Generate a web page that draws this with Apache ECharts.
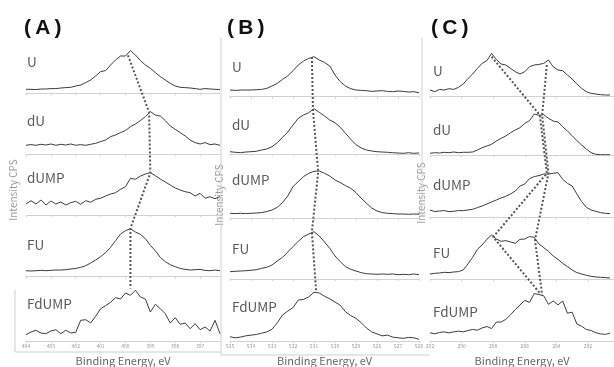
<!DOCTYPE html>
<html lang="en">
<head>
  <meta charset="UTF-8">
  <script src="https://cdn.jsdelivr.net/npm/echarts@6/dist/echarts.min.js"></script>
  <style>
    body { margin: 0; background: #fff; }
    #container { width: 614px; height: 367px; }
  </style>
</head>
<body>
  <div id="container"></div>
  <script>
    // row names, top to bottom
    var rowNames = ['U', 'dU', 'dUMP', 'FU', 'FdUMP'];

    // (A) N1s : 404 -> 396.2 eV, one point every 0.2 eV
    var startA = 404, stepA = -0.2;
    var uA = [4, 4, 3.7, 4.3, 4.3, 4.7, 4.7, 5.3, 5.7, 6, 7.3, 8.3, 10.7, 13.3, 17.3, 21.7, 22.7, 28.3, 33.3, 37.3, 37.3, 42.7, 38.3, 32.7, 28.3, 25, 20.7, 16.7, 13.3, 10, 7.3, 6, 5.7, 5.3, 4.7, 4, 4.7, 4.3, 4, 3.7];
    var duA = [9, 9.7, 9, 10, 9.3, 10.3, 9, 10, 9.3, 10.3, 9, 9.7, 9, 10, 11, 12.7, 14.3, 17.7, 19.3, 21.7, 23.7, 27.7, 30.3, 33.7, 37.7, 42.7, 39.3, 38.3, 33.7, 28.3, 25, 21.7, 18.3, 14.3, 11.7, 10.3, 11.7, 9.7, 10.3, 9];
    var dumpA = [11, 14.3, 11, 15, 10, 14, 11, 13, 10, 12.3, 13.7, 10.7, 14.3, 12.7, 15.7, 16.7, 19, 21, 22.3, 25.7, 28.3, 36.7, 35.7, 39, 41, 42.3, 39.3, 36, 33, 30, 27, 25, 23.3, 22.3, 19, 21.7, 16.7, 18.3, 16.3, 18.3];
    var fuA = [6, 5.7, 6, 6.3, 6, 6.3, 6.7, 6.7, 7, 7.7, 8.3, 9.3, 11, 13.7, 16.7, 20, 24, 29.3, 36, 42.7, 46, 48, 44.7, 42.3, 38, 31.3, 26, 19.3, 15, 12, 10, 8.3, 7.3, 6.7, 7, 7.3, 6.3, 6, 6.7, 6];
    var fdumpA = [6.3, 9, 10.7, 8, 7.3, 10, 11.3, 7.3, 10.7, 8, 8.7, 20.7, 21.3, 18, 24.7, 32.3, 35.3, 38.7, 43.3, 42, 48, 45.7, 50.7, 44, 42, 29, 36.7, 32.3, 27.3, 18, 23.3, 16.7, 18, 12.3, 17.3, 11.3, 14, 10, 20.7, 7.3];
    var ticksA = [404, 403, 402, 401, 400, 399, 398, 397];
    var peakEA = [399.9, 399.05, 399.0, 399.8, 399.8];
    var peakIA = [38, 42, 42, 48.5, 52.5];

    // (B) O1s : 535 -> 526 eV, one point every 0.25 eV
    var startB = 535, stepB = -0.25;
    var uB = [6.7, 6.3, 6.7, 6.7, 6.7, 7, 7.3, 8.3, 10.7, 13.3, 17.3, 20.7, 26, 31.7, 35.7, 38.3, 40, 36.7, 34.3, 30.7, 21.7, 15, 10.7, 8, 6.7, 6.3, 6, 5.3, 5.7, 6, 5.3, 5, 5.7, 5.3, 4.7, 5, 4];
    var duB = [2.3, 1.7, 1.3, 2, 2.3, 2.7, 4, 5, 7.3, 11.3, 16.7, 22, 29, 35.7, 39, 41.3, 45.3, 41.7, 38, 34, 31.3, 26.7, 20.7, 14.7, 9.3, 6, 4, 3, 2.3, 2, 1.7, 1.3, 1, 0.7, 1.3, 0.7, 1];
    var dumpB = [5, 4.7, 5, 4.7, 5, 5.3, 5.7, 6.7, 8.3, 11, 15.7, 22.3, 31.7, 36.7, 41.7, 45, 47, 47.3, 45, 42.3, 38.3, 35.7, 32.7, 30, 25.7, 20, 15, 10.3, 7.3, 5.7, 5, 4.7, 4.3, 4.3, 4, 4.3, 4];
    var fuB = [7.3, 7.7, 8, 8.3, 8.7, 9.3, 10.7, 11.7, 14, 18, 21.7, 27, 32.3, 37.7, 42.3, 45, 47.3, 43, 37, 30.7, 23, 17.3, 12.3, 9.7, 8, 6.3, 5.3, 5, 4.7, 5, 4.7, 5, 4.3, 4.7, 4.3, 5, 4.3];
    var fdumpB = [4.3, 3.3, 4, 5.3, 6, 6.7, 8, 9.3, 12, 18.7, 26.7, 30.7, 34.3, 42, 42.7, 45.3, 50, 49.3, 46, 43.3, 40, 36.7, 30, 26, 23.3, 18.7, 13.3, 9.3, 7.3, 5.3, 6, 4, 3.3, 2.7, 3.7, 3.3, 1.7];
    var ticksB = [535, 534, 533, 532, 531, 530, 529, 528, 527, 526];
    var peakEB = [531.1, 531.05, 530.8, 531.1, 530.9];
    var peakIB = [39.7, 44, 46.3, 47, 51.5];

    // (C) C1s : 292 -> 280.4 eV, one point every 0.3 eV
    var startC = 292, stepC = -0.3;
    var uC = [6.7, 5, 7.3, 6.7, 8, 7.3, 9.3, 12.7, 18, 22.7, 28.3, 33.3, 36, 43.3, 37.3, 32.7, 31.7, 28.3, 25, 22.7, 25, 30, 31.7, 32.3, 33.3, 36.7, 30, 26.7, 26, 21.7, 17.7, 12.7, 8.3, 5, 3.3, 2.7, 2, 1.7, 1.7];
    var duC = [1.7, 2.3, 2, 2.7, 2.3, 3, 2.3, 2.7, 2.7, 3, 5, 7.3, 9, 10.7, 14, 16.7, 19, 22.3, 25, 27.3, 31.7, 34.3, 41, 39.7, 40.3, 36.7, 34, 33, 28.3, 24, 19.3, 14.3, 10, 6, 2.3, 0.7, 0.3, 0.3, 0.3];
    var dumpC = [7.3, 5.7, 6.3, 6.7, 5.7, 6, 6.7, 6.7, 7.3, 8, 9.7, 11.3, 13.3, 15.3, 17.3, 19.3, 21, 23.3, 26.3, 31.3, 33.3, 38.7, 40.7, 41.7, 43.3, 43.3, 44, 44.7, 38, 34, 31.3, 23.3, 15.7, 10, 7.3, 6, 4.7, 4, 3.7];
    var fuC = [5.3, 6, 6.3, 7, 6.7, 7.3, 7.7, 9.3, 15.3, 22, 30, 34.3, 40, 44.3, 40.3, 38, 38.7, 37.3, 36, 40, 40.3, 42.7, 42, 35.3, 31.7, 28, 23.3, 20, 16, 12.7, 9.3, 6.7, 5.3, 4, 3, 2.3, 2, 1.7, 1.3];
    var fdumpC = [8.3, 7.3, 8.7, 9.3, 8.3, 9.3, 10, 9.3, 10.7, 11.7, 11, 13.3, 14.7, 12.7, 19.3, 19.3, 22, 26.7, 32, 36.7, 41.3, 39.3, 48.3, 47.3, 46, 37.3, 40.7, 36.7, 40.7, 28.3, 29.3, 17.3, 15, 11.7, 10.7, 8.3, 7.3, 6.7, 8];
    var ticksC = [292, 290, 288, 286, 284, 282];
    // two peak traces in C
    var peakEC1 = [288.1, 285.05, 284.6, 288.0, 285.05];
    var peakIC1 = [40, 40, 44, 42.3, 49];
    var peakEC2 = [284.6, 284.9, 284.5, 285.35, 284.9];
    var peakIC2 = [31.7, 40, 44, 39.3, 47];

    var H = 58; // px height of a row's plot box
    var panels = [
      { title: '(\u2009A\u2009)', tx: 24, left: 26, right: 394, min: 396.2, max: 404, start: startA, step: stepA,
        curves: [uA, duA, dumpA, fuA, fdumpA], ticks: ticksA,
        base: [93.3, 154.3, 215, 276.7, 341], labelX: 27, labelY: [64, 123, 180, 247, 306],
        traces: [[peakEA, peakIA]], yTitle: [13, 190] },
      { title: '(\u2009B\u2009)', tx: 227, left: 230, right: 195, min: 526, max: 535, start: startB, step: stepB,
        curves: [uB, duB, dumpB, fuB, fdumpB], ticks: ticksB,
        base: [96.7, 154, 218.3, 279, 342.5], labelX: 232, labelY: [69, 127, 182, 251, 309],
        traces: [[peakEB, peakIB]], yTitle: [219, 195] },
      { title: '(\u2009C\u2009)', tx: 431, left: 430, right: 0, min: 280.35, max: 292, start: startC, step: stepC,
        curves: [uC, duC, dumpC, fuC, fdumpC], ticks: ticksC,
        base: [96.7, 155, 217.3, 279.3, 342], labelX: 433, labelY: [73, 132, 187, 255, 314],
        traces: [[peakEC1, peakIC1], [peakEC2, peakIC2]], yTitle: [421, 193] }
    ];

    var grid = [], xAxis = [], yAxis = [], series = [], graphic = [];
    var lineGray = '#d2d2d2';
    var font = '"Noto Sans CJK JP", "Noto Sans", sans-serif';

    panels.forEach(function (p) {
      for (var r = 0; r < 5; r++) {
        var gi = grid.length;
        var last = r === 4;
        grid.push({ left: p.left, right: p.right, top: p.base[r] - H, height: H });
        xAxis.push({
          gridIndex: gi, type: 'value', inverse: true, min: p.min, max: p.max,
          axisLine: { show: true, onZero: false, lineStyle: { color: lineGray, width: 1 } },
          axisTick: { show: true, length: 2, customValues: p.ticks, lineStyle: { color: lineGray } },
          axisLabel: { show: last, customValues: p.ticks, fontSize: 5, color: '#999', margin: 3, fontFamily: font },
          splitLine: { show: false },
          name: last ? 'Binding Energy, eV' : '',
          nameLocation: 'middle', nameGap: 14,
          nameTextStyle: { fontSize: 11, color: '#666', fontFamily: font }
        });
        yAxis.push({ gridIndex: gi, type: 'value', min: 0, max: H, show: false });
        var pts = p.curves[r].map(function (v, i) { return [p.start + i * p.step, v]; });
        series.push({
          type: 'line', xAxisIndex: gi, yAxisIndex: gi, data: pts,
          showSymbol: false, symbol: 'none', silent: true,
          lineStyle: { color: '#3c3c3c', width: 1 }
        });
        graphic.push({
          type: 'text', left: p.labelX, top: p.labelY[r] - 9,
          style: { text: rowNames[r], fontSize: 13.5, fill: '#5a5a5a', fontFamily: font }
        });
      }
      // overlay grid for the dotted peak traces
      var span = p.base[4] - p.base[0] + H;
      var oi = grid.length;
      grid.push({ left: p.left, right: p.right, top: p.base[0] - H, height: span });
      xAxis.push({ gridIndex: oi, type: 'value', inverse: true, min: p.min, max: p.max, show: false });
      yAxis.push({ gridIndex: oi, type: 'value', min: 0, max: span, show: false });
      p.traces.forEach(function (t) {
        var pts = t[0].map(function (e, r) { return [e, (p.base[4] - p.base[r]) + t[1][r]]; });
        series.push({
          type: 'line', xAxisIndex: oi, yAxisIndex: oi, data: pts, z: 5,
          showSymbol: false, symbol: 'none', silent: true,
          lineStyle: { color: '#555', width: 2, type: [2, 2] }
        });
      });

      graphic.push({
        type: 'text', left: p.tx, top: 18,
        style: { text: p.title, fontSize: 21, fontWeight: 'bold', fill: '#111', fontFamily: 'Arial, "Liberation Sans", sans-serif' }
      });
      graphic.push({
        type: 'text', x: p.yTitle[0], y: p.yTitle[1], rotation: Math.PI / 2,
        style: { text: 'Intensity CPS', fontSize: 10, fill: '#9a9a9a', align: 'center', verticalAlign: 'middle', fontFamily: font }
      });
    });

    // light frame lines left over from the source figure
    var frame = [
      [15, 290, 15, 352], [15, 352, 221, 352],
      [221, 38, 221, 355], [221, 355, 430, 355],
      [422, 38, 422, 217]
    ];
    frame.forEach(function (f) {
      graphic.push({
        type: 'line', shape: { x1: f[0], y1: f[1], x2: f[2], y2: f[3] },
        style: { stroke: '#cfcfcf', lineWidth: 1 }, silent: true
      });
    });

    var myChart = echarts.init(document.getElementById('container'));
    myChart.setOption({
      animation: false,
      backgroundColor: '#fff',
      grid: grid, xAxis: xAxis, yAxis: yAxis, series: series, graphic: graphic
    });
  </script>
</body>
</html>
